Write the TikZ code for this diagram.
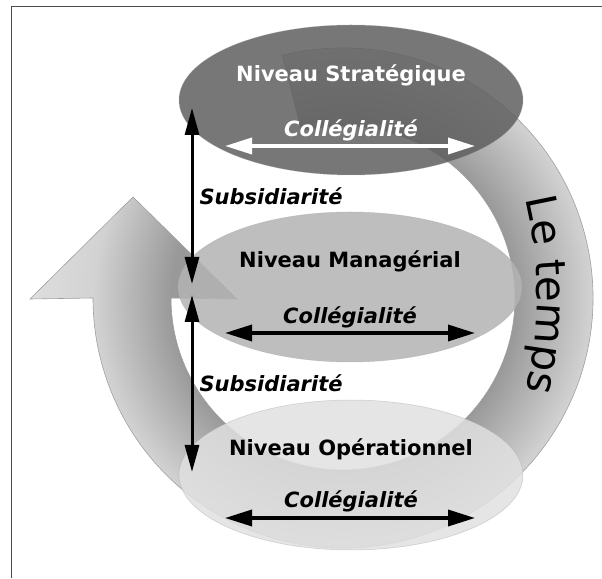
\documentclass[tikz,border=0pt]{standalone}
\usepackage{fontspec}
\setmainfont{DejaVu Sans}
\usetikzlibrary{shapes.geometric,arrows.meta,calc,decorations.text}

\definecolor{stratfill}{HTML}{5F5F5F}
\definecolor{managfill}{HTML}{B3B3B3}
\definecolor{operfill}{HTML}{E0E0E0}
\pgfdeclareradialshading{ringshade}{\pgfpoint{0bp}{0bp}}{color(0bp)=(gray!80); color(13.4bp)=(gray!80); color(19.5bp)=(gray!35); color(25bp)=(gray!25); color(50bp)=(gray!25)}

\tikzset{
  niveau/.style={ellipse,minimum width=344pt,minimum height=150pt,inner sep=0pt,fill opacity=0.85,draw=gray!70,draw opacity=0.5,line width=0.5pt},
  titre/.style={font=\bfseries\fontsize{21}{21}\selectfont,inner sep=0pt},
  mot/.style={font=\bfseries\itshape\fontsize{21}{21}\selectfont,inner sep=0pt},
  colleg/.style={line width=3.5pt,{Triangle[length=27pt,width=16pt]}-{Triangle[length=27pt,width=16pt]}},
  subsid/.style={line width=3pt,{Triangle[length=27pt,width=14pt]}-{Triangle[length=27pt,width=14pt]}}
}

\begin{document}
\begin{tikzpicture}[x=1pt,y=1pt]
		\useasboundingbox (0,0) rectangle (602,578);
		\draw[gray!140,line width=1pt] (11,0) -- (11,571) -- (602,571);
		\coordinate (ringc) at (343,280);
		\coordinate (tempsc) at (117,283);
		% la fleche du temps
		\draw[gray!75,line width=0.6pt,path picture={\shade[shading=ringshade] (ringc) circle (320);}]
			($(ringc)+(104:250)$) arc[start angle=104,end angle=-180,radius=250]
			-- (30,279) -- (133,381) -- (237,279) -- ($(ringc)+(180:172)$)
			arc[start angle=180,end angle=464,radius=172] -- cycle;
		\path[decorate,decoration={text along path,text align=center,
			text={|\fontsize{42}{42}\selectfont|Le temps}}]
			($(tempsc)+(15:420)$) arc[start angle=15,end angle=-15,radius=420];
		% les niveaux
		\node[niveau,fill=stratfill] (niv_strat) at (351,478) {};
		\node[niveau,fill=managfill] (niv_manag) at (350,291) {};
		\node[niveau,fill=operfill] (niv_oper) at (351,103) {};
		\node[titre,white] (t_strat) at ($(niv_strat)+(0,25)$) {Niveau Stratégique};
		\node[mot,white] (c_strat) at ($(niv_strat)+(0,-30)$) {Collégialité};
		\node[titre] (t_manag) at ($(niv_manag)+(0,26)$) {Niveau Managérial};
		\node[mot] (c_manag) at ($(niv_manag)+(0,-30)$) {Collégialité};
		\node[titre] (t_oper) at ($(niv_oper)+(0,26)$) {Niveau Opérationnel};
		\node[mot] (c_oper) at ($(niv_oper)+(0,-26)$) {Collégialité};
		\coordinate (strat_g) at ($(niv_strat)+(-126,-46)$);
		\coordinate (strat_d) at ($(niv_strat)+(124,-46)$);
		\coordinate (manag_g) at ($(niv_manag)+(-125,-46)$);
		\coordinate (manag_d) at ($(niv_manag)+(125,-46)$);
		\coordinate (oper_g) at ($(niv_oper)+(-126,-43)$);
		\coordinate (oper_d) at ($(niv_oper)+(124,-43)$);
		\draw[colleg,white] (strat_g) -- (strat_d);
		\draw[colleg] (manag_g) -- (manag_d);
		\draw[colleg] (oper_g) -- (oper_d);
		% subsidiarite
		\coordinate (sub_a) at (192,470);
		\coordinate (sub_b) at (192,294);
		\coordinate (sub_c) at (192,283);
		\coordinate (sub_d) at (192,106);
		\draw[subsid] (sub_a) -- (sub_b) node[mot,pos=0.5,anchor=west,xshift=6pt] (s_haut) {Subsidiarité};
		\draw[subsid] (sub_c) -- (sub_d) node[mot,pos=0.5,anchor=west,xshift=6pt] (s_bas) {Subsidiarité};
		\end{tikzpicture}
\end{document}
